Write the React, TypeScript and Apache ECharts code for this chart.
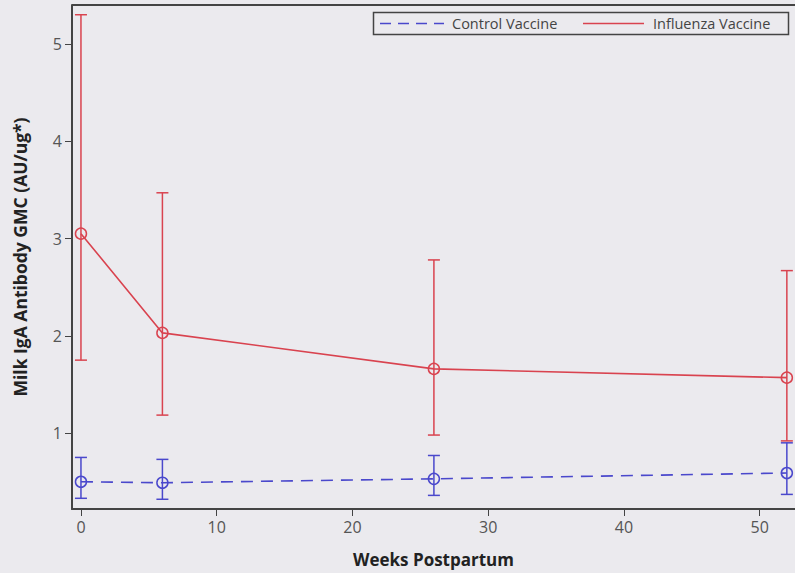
import React, { useEffect, useRef } from "react";
import * as echarts from "echarts";

const weeks = [0, 6, 26, 52];
const controlGMC = [0.5, 0.49, 0.53, 0.59];
const controlLow = [0.33, 0.32, 0.36, 0.37];
const controlHigh = [0.75, 0.73, 0.77, 0.9];
const fluGMC = [3.05, 2.03, 1.66, 1.57];
const fluLow = [1.75, 1.185, 0.98, 0.92];
const fluHigh = [5.3, 3.47, 2.78, 2.67];
const xTicks = [0, 10, 20, 30, 40, 50];
const yTicks = [1, 2, 3, 4, 5];

const RED = "#d9434f";
const BLUE = "#4a48cc";
const BG = "#ebeaee";

function errorSeries(low: number[], high: number[], color: string) {
  return {
    type: "custom",
    silent: true,
    z: 3,
    data: weeks.map((w, i) => [w, low[i], high[i]]),
    renderItem: (params: any, api: any) => {
      const x = api.value(0);
      const lo = api.coord([x, api.value(1)]);
      const hi = api.coord([x, api.value(2)]);
      const cw = 6;
      const style = { stroke: color, lineWidth: 1.5 };
      return {
        type: "group",
        children: [
          { type: "line", shape: { x1: lo[0], y1: lo[1], x2: hi[0], y2: hi[1] }, style },
          { type: "line", shape: { x1: hi[0] - cw, y1: hi[1], x2: hi[0] + cw, y2: hi[1] }, style },
          { type: "line", shape: { x1: lo[0] - cw, y1: lo[1], x2: lo[0] + cw, y2: lo[1] }, style },
        ],
      };
    },
  };
}

export default function App() {
  const ref = useRef<HTMLDivElement>(null);
  useEffect(() => {
    document.body.style.margin = "0";
    const chart = echarts.init(ref.current!, null, { renderer: "svg" });
    const axisLabelStyle = { color: "#555", fontSize: 16, fontFamily: "Open Sans" };
    const titleStyle = { color: "#222", fontSize: 17.5, fontWeight: "bold", fontFamily: "Open Sans" };
    chart.setOption({
      animation: false,
      backgroundColor: BG,
      grid: { left: 72, top: 5, right: 0, bottom: 64, show: false, containLabel: false, outerBoundsMode: "none" },
      xAxis: {
        type: "value",
        min: -0.66,
        max: 52.6,
        name: "Weeks Postpartum",
        nameLocation: "middle",
        nameGap: 42,
        nameTextStyle: { ...titleStyle, fontSize: 17 },
        axisLine: { show: true, onZero: false, lineStyle: { color: "#444", width: 2 } },
        axisTick: { show: true, length: 7, customValues: xTicks, lineStyle: { color: "#444" } },
        axisLabel: { ...axisLabelStyle, margin: 10, customValues: xTicks },
        splitLine: { show: false },
      },
      yAxis: {
        type: "value",
        min: 0.22,
        max: 5.4,
        name: "Milk IgA Antibody GMC (AU/ug*)",
        nameLocation: "middle",
        nameGap: 43,
        nameTextStyle: titleStyle,
        axisLine: { show: true, onZero: false, lineStyle: { color: "#444", width: 2 } },
        axisTick: { show: true, length: 7, customValues: yTicks, lineStyle: { color: "#444" } },
        axisLabel: { ...axisLabelStyle, margin: 10, customValues: yTicks },
        splitLine: { show: false },
      },
      series: [
        errorSeries(controlLow, controlHigh, BLUE),
        errorSeries(fluLow, fluHigh, RED),
        {
          name: "Control Vaccine",
          type: "line",
          data: weeks.map((w, i) => [w, controlGMC[i]]),
          symbol: "circle",
          symbolSize: 11,
          itemStyle: { color: "transparent", borderColor: BLUE, borderWidth: 1.5 },
          lineStyle: { color: BLUE, width: 1.6, type: [12, 8] },
          z: 4,
        },
        {
          name: "Influenza Vaccine",
          type: "line",
          data: weeks.map((w, i) => [w, fluGMC[i]]),
          symbol: "circle",
          symbolSize: 11,
          itemStyle: { color: "transparent", borderColor: RED, borderWidth: 1.5 },
          lineStyle: { color: RED, width: 1.6 },
          z: 4,
        },
      ],
      graphic: [
        { type: "line", shape: { x1: 72, y1: 5, x2: 795, y2: 5 }, style: { stroke: "#444", lineWidth: 2 } },
        {
          type: "rect",
          shape: { x: 373.5, y: 12.5, width: 415, height: 22 },
          style: { fill: "rgba(0,0,0,0)", stroke: "#444", lineWidth: 1.5 },
        },
        {
          type: "line",
          shape: { x1: 380, y1: 23.5, x2: 444, y2: 23.5 },
          style: { stroke: BLUE, lineWidth: 1.5, lineDash: [11, 7] },
        },
        {
          type: "text",
          x: 452,
          y: 23.5,
          style: { text: "Control Vaccine", fill: "#444", fontSize: 14.5, fontFamily: "Open Sans", verticalAlign: "middle" },
        },
        {
          type: "line",
          shape: { x1: 583, y1: 23.5, x2: 644, y2: 23.5 },
          style: { stroke: RED, lineWidth: 1.5 },
        },
        {
          type: "text",
          x: 653,
          y: 23.5,
          style: { text: "Influenza Vaccine", fill: "#444", fontSize: 14.5, fontFamily: "Open Sans", verticalAlign: "middle" },
        },
      ],
    });
    return () => chart.dispose();
  }, []);
  return <div ref={ref} style={{ width: 795, height: 573 }} />;
}
